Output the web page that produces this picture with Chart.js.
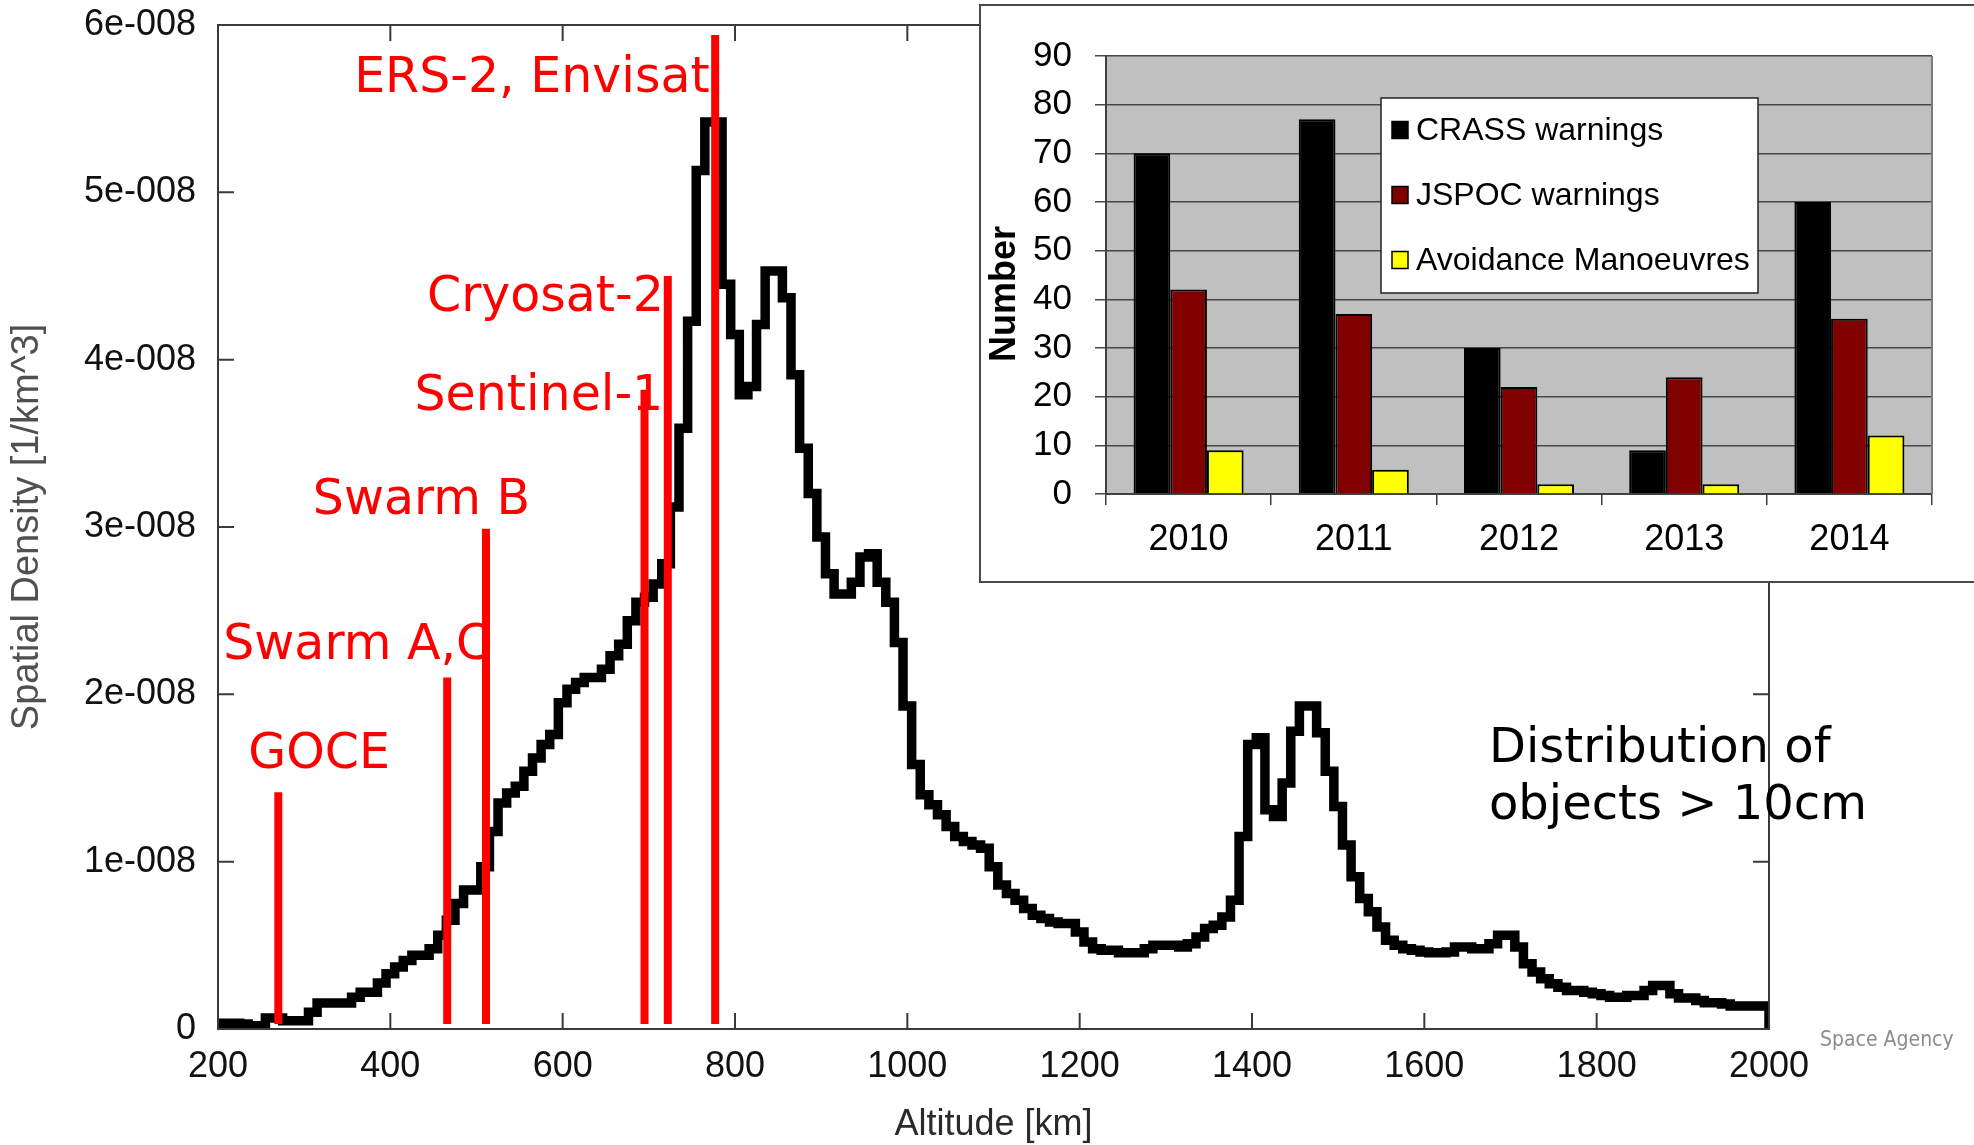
<!DOCTYPE html>
<html>
<head>
<meta charset="utf-8">
<script src="https://cdn.jsdelivr.net/npm/chart.js"></script>
<style>
  html, body { margin: 0; padding: 0; background: #fff; }
  body { width: 1974px; height: 1145px; position: relative; overflow: hidden; }
  #main { position: absolute; left: 0; top: 0; }
  #insetBox {
    position: absolute; left: 979px; top: 4px; width: 1010px; height: 579px;
    box-sizing: border-box; background: #fff; border: 2px solid #4a4a4a;
  }
  #inset { position: absolute; left: 981px; top: 6px; }
  #note {
    position: absolute; left: 1489px; top: 717px;
    font-family: "DejaVu Sans", sans-serif; font-size: 48px; line-height: 57px;
    color: #000; white-space: nowrap;
  }
  #credit {
    position: absolute; left: 1820px; top: 1029px;
    font-family: "DejaVu Sans Condensed", "DejaVu Sans", sans-serif; font-stretch: condensed;
    font-size: 21px; line-height: 21px; color: #8c8c8c; white-space: nowrap;
  }
</style>
</head>
<body>
<canvas id="main" width="1974" height="1145"></canvas>
<div id="insetBox"></div>
<canvas id="inset" width="993" height="575"></canvas>
<div id="note">Distribution of<br>objects &gt; 10cm</div>
<div id="credit">Space Agency</div>

<script>
// ---- main histogram: spatial density per 10 km altitude bin (units of 1e-8 1/km^3)
const binStart = 200;
const binWidth = 10;
const density = [
    0.035, 0.035, 0.035, 0.03, 0.02, 0.02, 0.066, 0.066, 0.05, 0.05,
    0.05, 0.10, 0.155, 0.155, 0.155, 0.155, 0.19, 0.22, 0.22, 0.275,
    0.33, 0.37, 0.41, 0.44, 0.44, 0.48, 0.56, 0.65, 0.75, 0.83,
    0.83, 0.97, 1.18, 1.35, 1.41, 1.45, 1.54, 1.62, 1.70, 1.76,
    1.95, 2.03, 2.07, 2.10, 2.10, 2.15, 2.23, 2.30, 2.44, 2.55,
    2.58, 2.66, 2.78, 3.12, 3.59, 4.23, 5.13, 5.42, 5.42, 4.45,
    4.15, 3.79, 3.84, 4.21, 4.53, 4.53, 4.37, 3.91, 3.47, 3.20,
    2.94, 2.72, 2.60, 2.60, 2.67, 2.82, 2.84, 2.67, 2.55, 2.31,
    1.93, 1.58, 1.40, 1.34, 1.28, 1.21, 1.15, 1.12, 1.10, 1.08,
    0.97, 0.86, 0.81, 0.77, 0.72, 0.68, 0.66, 0.64, 0.63, 0.63,
    0.58, 0.52, 0.48, 0.47, 0.47, 0.455, 0.455, 0.455, 0.48, 0.50,
    0.50, 0.50, 0.49, 0.51, 0.55, 0.60, 0.62, 0.67, 0.77, 1.15,
    1.70, 1.74, 1.31, 1.27, 1.47, 1.78, 1.93, 1.93, 1.77, 1.54,
    1.33, 1.10, 0.91, 0.78, 0.70, 0.61, 0.53, 0.50, 0.48, 0.47,
    0.46, 0.455, 0.455, 0.46, 0.49, 0.49, 0.48, 0.48, 0.51, 0.56,
    0.56, 0.49, 0.39, 0.34, 0.30, 0.27, 0.25, 0.23, 0.23, 0.22,
    0.21, 0.20, 0.19, 0.19, 0.20, 0.20, 0.23, 0.26, 0.26, 0.21,
    0.185, 0.185, 0.17, 0.157, 0.157, 0.15, 0.137, 0.137, 0.137, 0.137,
    0.137,
];

// ---- satellite markers
const satNames = ["GOCE", "Swarm A,C", "Swarm B", "Sentinel-1", "Cryosat-2", "ERS-2, Envisat"];
const satAltitudes = [270, 466, 511, 695, 722, 777];
const satMarkerTops = [1.415, 2.10, 2.99, 3.82, 4.50, 5.94];
const satMarkerBase = 0.03;

// ---- axis ticks
const xTicks = [200, 400, 600, 800, 1000, 1200, 1400, 1600, 1800, 2000];
const yTicks = [0, 1e-8, 2e-8, 3e-8, 4e-8, 5e-8, 6e-8];
const yTickLabels = ["0", "1e-008", "2e-008", "3e-008", "4e-008", "5e-008", "6e-008"];

// ---- inset bar chart
const years = ["2010", "2011", "2012", "2013", "2014"];
const crassWarnings = [70, 77, 30, 9, 60];
const jspocWarnings = [42, 37, 22, 24, 36];
const avoidanceManoeuvres = [9, 5, 2, 2, 12];

// where the red names sit (left edge altitude, baseline density)
const satLabelAnchors = [
    [235, 1.56], [206, 2.21], [310, 3.08], [428, 3.70], [442.5, 4.29], [358, 5.60],
];

const E8 = 1e-8;
const arial = '"Liberation Sans", Arial, sans-serif';

const histPoints = density.map((v, i) => ({ x: binStart + i * binWidth, y: v * E8 }));
histPoints.push({ x: 2000, y: 0 });

const satDatasets = satNames.map((name, i) => ({
    label: name,
    data: [
        { x: satAltitudes[i], y: satMarkerBase * E8 },
        { x: satAltitudes[i], y: satMarkerTops[i] * E8 },
    ],
    borderColor: "#ff0000",
    borderWidth: 8,
    borderCapStyle: "butt",
    pointRadius: 0,
    order: 0,
}));

const mainFrame = {
    id: "mainFrame",
    afterDatasetsDraw(chart) {
        const { ctx, chartArea: a, scales: { x, y } } = chart;
        ctx.save();
        ctx.strokeStyle = "#3a3a3a";
        ctx.lineWidth = 2;
        ctx.strokeRect(a.left, a.top, a.right - a.left, a.bottom - a.top);

        // inward ticks on all four sides
        ctx.beginPath();
        xTicks.forEach((v) => {
            const px = x.getPixelForValue(v);
            ctx.moveTo(px, a.bottom); ctx.lineTo(px, a.bottom - 16);
            ctx.moveTo(px, a.top); ctx.lineTo(px, a.top + 16);
        });
        yTicks.forEach((v) => {
            const py = y.getPixelForValue(v);
            ctx.moveTo(a.left, py); ctx.lineTo(a.left + 16, py);
            ctx.moveTo(a.right, py); ctx.lineTo(a.right - 16, py);
        });
        ctx.stroke();

        ctx.fillStyle = "#111";
        ctx.font = "36px " + arial;
        ctx.textBaseline = "middle";
        ctx.textAlign = "center";
        xTicks.forEach((v) => ctx.fillText(String(v), x.getPixelForValue(v), a.bottom + 38));
        ctx.textAlign = "right";
        yTicks.forEach((v, i) => ctx.fillText(yTickLabels[i], a.left - 22, y.getPixelForValue(v)));

        ctx.textAlign = "center";
        ctx.fillStyle = "#2a2a2a";
        ctx.fillText("Altitude [km]", (a.left + a.right) / 2, a.bottom + 96);

        ctx.save();
        ctx.translate(28, (a.top + a.bottom) / 2);
        ctx.rotate(-Math.PI / 2);
        ctx.fillStyle = "#505050";
        ctx.font = "38px " + arial;
        ctx.fillText("Spatial Density [1/km^3]", 0, 0);
        ctx.restore();

        // satellite names
        ctx.fillStyle = "#ff0000";
        ctx.font = '49px "DejaVu Sans", sans-serif';
        ctx.textAlign = "left";
        ctx.textBaseline = "alphabetic";
        satNames.forEach((name, i) => {
            const [alt, base] = satLabelAnchors[i];
            ctx.fillText(name, x.getPixelForValue(alt), y.getPixelForValue(base * E8));
        });
        ctx.restore();
    },
};

new Chart(document.getElementById("main"), {
    type: "line",
    data: {
        datasets: [
            ...satDatasets,
            {
                label: "Spatial density",
                data: histPoints,
                stepped: "middle",
                borderColor: "#000000",
                borderWidth: 9.5,
                borderJoinStyle: "miter",
                pointRadius: 0,
                fill: false,
                order: 1,
            },
        ],
    },
    options: {
        responsive: false,
        animation: false,
        devicePixelRatio: 1,
        layout: { padding: { left: 218, right: 205, top: 25, bottom: 116 } },
        scales: {
            x: { type: "linear", min: 200, max: 2000, display: false },
            y: { min: 0, max: 6e-8, display: false },
        },
        plugins: {
            legend: { display: false },
            tooltip: { enabled: false },
        },
    },
    plugins: [mainFrame],
});

// ---- inset
const insetBackground = {
    id: "insetBackground",
    beforeDraw(chart) {
        const { ctx, chartArea: a } = chart;
        ctx.save();
        ctx.fillStyle = "#c0c0c0";
        ctx.fillRect(a.left, a.top, a.right - a.left, a.bottom - a.top);
        ctx.restore();
    },
    afterDraw(chart) {
        const { ctx, chartArea: a } = chart;
        ctx.save();
        ctx.strokeStyle = "#7a7a7a";
        ctx.lineWidth = 2;
        ctx.beginPath();
        ctx.moveTo(a.right, a.top);
        ctx.lineTo(a.right, a.bottom);
        ctx.stroke();

        // y title
        ctx.translate(a.left - 101, a.top + 238);
        ctx.rotate(-Math.PI / 2);
        ctx.fillStyle = "#000";
        ctx.font = "bold 36px " + arial;
        ctx.textAlign = "center";
        ctx.textBaseline = "middle";
        ctx.fillText("Number", 0, 0);
        ctx.restore();

        // legend box
        const bx = a.left + 275, by = a.top + 42, bw = 377, bh = 195;
        ctx.save();
        ctx.fillStyle = "#ffffff";
        ctx.fillRect(bx, by, bw, bh);
        ctx.strokeStyle = "#222";
        ctx.lineWidth = 1.5;
        ctx.strokeRect(bx, by, bw, bh);
        ctx.font = "32px " + arial;
        ctx.textAlign = "left";
        ctx.textBaseline = "middle";
        chart.data.datasets.forEach((ds, i) => {
            const cy = by + 32 + i * 65;
            ctx.fillStyle = ds.backgroundColor;
            ctx.fillRect(bx + 11, cy - 8.5, 16, 17);
            ctx.strokeStyle = "#000";
            ctx.strokeRect(bx + 11, cy - 8.5, 16, 17);
            ctx.fillStyle = "#000";
            ctx.fillText(ds.label, bx + 35, cy + 1);
        });
        ctx.restore();
    },
};

new Chart(document.getElementById("inset"), {
    type: "bar",
    data: {
        labels: years,
        datasets: [
            { label: "CRASS warnings", data: crassWarnings, backgroundColor: "#000000" },
            { label: "JSPOC warnings", data: jspocWarnings, backgroundColor: "#800000" },
            { label: "Avoidance Manoeuvres", data: avoidanceManoeuvres, backgroundColor: "#ffff00" },
        ],
    },
    options: {
        responsive: false,
        animation: false,
        devicePixelRatio: 1,
        layout: { padding: { left: 0, right: 42, top: 50, bottom: 0 } },
        datasets: {
            bar: {
                categoryPercentage: 0.666,
                barPercentage: 1,
                borderColor: "#000000",
                borderWidth: 2,
            },
        },
        scales: {
            x: {
                grid: { offset: true, drawOnChartArea: false, tickLength: 11, color: "#404040", lineWidth: 1.5 },
                border: { color: "#404040", width: 2 },
                ticks: { font: { family: arial, size: 36 }, color: "#000", padding: 13 },
                afterFit(scale) { scale.height = 87; },
            },
            y: {
                min: 0,
                max: 90,
                ticks: { stepSize: 10, font: { family: arial, size: 35 }, color: "#000", padding: 23 },
                grid: { color: "#474747", lineWidth: 1.5, tickLength: 11 },
                border: { color: "#404040", width: 2 },
                afterFit(scale) { scale.width = 125; },
            },
        },
        plugins: {
            legend: { display: false },
            tooltip: { enabled: false },
        },
    },
    plugins: [insetBackground],
});
</script>
</body>
</html>
